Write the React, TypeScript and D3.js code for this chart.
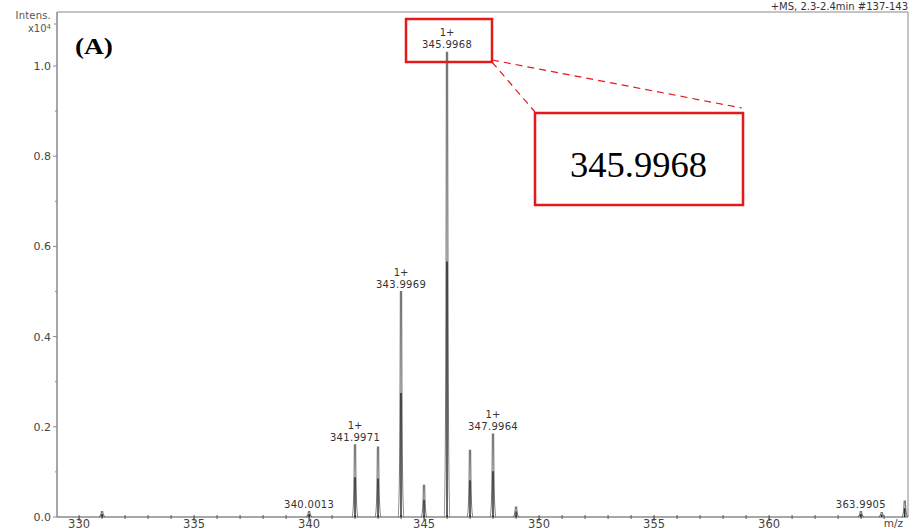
import React from "react";
import * as d3 from "d3";

const peakMz = [331.0, 340.0013, 341.9971, 342.997, 343.9969, 344.998, 345.9968, 346.997, 347.9964, 348.999, 363.9905, 364.9, 365.9];
const peakIntensity = [0.012, 0.012, 0.16, 0.155, 0.5, 0.07, 1.03, 0.148, 0.184, 0.022, 0.012, 0.01, 0.035];
const chargeLabels = ["", "", "1+", "", "1+", "", "1+", "", "1+", "", "", "", ""];
const mzLabels = ["", "340.0013", "341.9971", "", "343.9969", "", "345.9968", "", "347.9964", "", "363.9905", "", ""];
const xMajorTicks = [330, 335, 340, 345, 350, 355, 360];
const yMajorTicks = [0.0, 0.2, 0.4, 0.6, 0.8, 1.0];
const zoomedLabel = "345.9968";

const W = 912, H = 531;
const left = 57, right = 908, top = 12, bottom = 517;

export default function App() {
  const x = d3.scaleLinear().domain([329.04, 366.04]).range([left, right]);
  const y = d3.scaleLinear().domain([0, 1]).range([bottom, 66]);
  const axisColor = "#8a8a8a";
  const textColor = "#444";
  const font = "'DejaVu Sans', Verdana, sans-serif";
  const serif = "'Liberation Serif', 'Times New Roman', serif";
  const xMinor = d3.range(330, 366, 1);
  const yMinor = d3.range(0.1, 1.1, 0.2);

  const topIdx = peakIntensity.indexOf(d3.max(peakIntensity)!);
  const tx = x(peakMz[topIdx]);

  return (
    <svg width={W} height={H} style={{ position: "absolute", left: 0, top: 0, background: "#fff" }}>
      {/* frame */}
      <line x1={left} x2={right} y1={top} y2={top} stroke={axisColor} strokeWidth={1} />
      <line x1={right} x2={right} y1={top} y2={bottom} stroke={axisColor} strokeWidth={1} />
      <line x1={left} x2={left} y1={top} y2={bottom} stroke={axisColor} strokeWidth={1.5} />
      <line x1={left} x2={right} y1={bottom} y2={bottom} stroke={axisColor} strokeWidth={1.5} />

      {/* y ticks */}
      {yMajorTicks.map((t) => (
        <g key={"y" + t}>
          <line x1={left - 4} x2={left} y1={y(t)} y2={y(t)} stroke={axisColor} />
          <text x={left - 6} y={y(t) + 4} textAnchor="end" fontSize={11} fontFamily={font} fill={textColor}>
            {t.toFixed(1)}
          </text>
        </g>
      ))}
      {yMinor.map((t) => (
        <line key={"ym" + t} x1={left - 2} x2={left} y1={y(t)} y2={y(t)} stroke={axisColor} />
      ))}
      <line x1={left - 3} x2={left} y1={24} y2={24} stroke={axisColor} />

      {/* x ticks */}
      {xMinor.map((t) => (
        <line key={"xm" + t} x1={x(t)} x2={x(t)} y1={bottom - 2} y2={bottom + 2} stroke="#555" />
      ))}
      {xMajorTicks.map((t) => (
        <g key={"x" + t}>
          <line x1={x(t)} x2={x(t)} y1={bottom} y2={bottom + 4} stroke="#555" />
          <text x={x(t)} y={528} textAnchor="middle" fontSize={11.5} fontFamily={font} fill={textColor}>
            {t}
          </text>
        </g>
      ))}
      <text x={903} y={527} textAnchor="end" fontSize={10.5} fontFamily={font} fill={textColor}>m/z</text>

      {/* peaks */}
      {peakMz.map((m, i) => {
        const px = x(m);
        const py = y(peakIntensity[i]);
        const foot = `M${px - 3},${bottom} Q${px - 1},${bottom - 1} ${px - 0.6},${py} L${px + 0.6},${py} Q${px + 1},${bottom - 1} ${px + 3},${bottom}`;
        const mid = y(peakIntensity[i] * 0.55);
        return (
          <g key={"p" + i}>
            <path d={foot} fill="none" stroke="#777" strokeWidth={1.2} />
            <line x1={px} x2={px} y1={bottom} y2={mid} stroke="#111" strokeWidth={1.3} />
          </g>
        );
      })}

      {/* peak labels */}
      {peakMz.map((m, i) => {
        if (!mzLabels[i]) return null;
        const px = x(m);
        const py = Math.min(y(peakIntensity[i]), bottom - 5);
        return (
          <g key={"l" + i} fontFamily={font} fontSize={10} fill="#333" textAnchor="middle">
            {chargeLabels[i] && <text x={px} y={py - 16}>{chargeLabels[i]}</text>}
            <text x={px} y={py - 4} letterSpacing={0.3}>{mzLabels[i]}</text>
          </g>
        );
      })}

      {/* header texts */}
      <text x={51} y={19} textAnchor="end" fontSize={10} fontFamily={font} fill="#555" letterSpacing={0.2}>Intens.</text>
      <text x={51} y={32} textAnchor="end" fontSize={10} fontFamily={font} fill="#555">
        x10<tspan fontSize={7} dy={-3.5}>4</tspan>
      </text>
      <text x={908} y={10} textAnchor="end" fontSize={10} fontFamily={font} fill="#333">+MS, 2.3-2.4min #137-143</text>
      <text x={75} y={54} fontSize={24} fontWeight="bold" fontFamily={serif} fill="#000" textLength={38} lengthAdjust="spacingAndGlyphs">(A)</text>

      {/* zoom annotation */}
      <rect x={tx - 41} y={19} width={86} height={43} fill="none" stroke="#e3191c" strokeWidth={2.5} />
      <line x1={tx + 45} y1={60} x2={742} y2={108} stroke="#e3191c" strokeWidth={1.2} strokeDasharray="7,5" />
      <line x1={tx + 45} y1={62} x2={535} y2={112} stroke="#e3191c" strokeWidth={1.2} strokeDasharray="7,5" />
      <rect x={535} y={113} width={208} height={92} fill="none" stroke="#e3191c" strokeWidth={2.5} />
      <text x={570} y={177} fontSize={35} fontFamily={serif} fill="#000" textLength={137} lengthAdjust="spacingAndGlyphs">
        {zoomedLabel}
      </text>
    </svg>
  );
}
